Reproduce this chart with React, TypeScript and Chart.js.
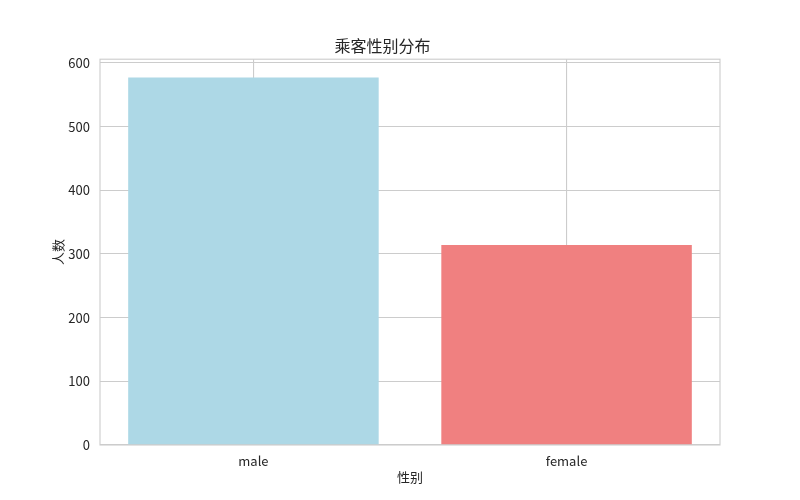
import { useEffect, useRef } from 'react';
import { Chart, registerables } from 'chart.js';
import type { Plugin } from 'chart.js';

Chart.register(...registerables);

// 数据
const categories = ['male', 'female'];
const counts = [577, 314];
const barColors = ['#ADD8E6', '#F08080'];
const yTicks = [0, 100, 200, 300, 400, 500, 600];

const FONT = '"Noto Sans CJK SC", "Noto Sans", sans-serif';
const TEXT = '#262626';
const GRID = '#cccccc';

// matplotlib 风格的四边框
const frame: Plugin<'bar'> = {
    id: 'frame',
    afterDatasetsDraw(chart) {
        const { ctx, chartArea: a } = chart;
        ctx.save();
        ctx.strokeStyle = GRID;
        ctx.lineWidth = 1.1;
        ctx.strokeRect(a.left, a.top, a.right - a.left, a.bottom - a.top);
        ctx.restore();
    },
};

export default function App() {
    const canvasRef = useRef<HTMLCanvasElement | null>(null);

    useEffect(() => {
        const canvas = canvasRef.current;
        if (!canvas) return;

        const chart = new Chart(canvas, {
            type: 'bar',
            data: {
                datasets: [
                    {
                        data: categories.map((_, i) => ({ x: i, y: counts[i] })),
                        backgroundColor: barColors,
                        borderWidth: 0,
                        barPercentage: 0.8,
                        categoryPercentage: 1,
                    },
                ],
            },
            options: {
                animation: false,
                responsive: true,
                maintainAspectRatio: false,
                layout: { padding: { left: 45, right: 80, top: 0, bottom: 0 } },
                plugins: {
                    legend: { display: false },
                    tooltip: { enabled: false },
                    title: {
                        display: true,
                        text: '乘客性别分布',
                        color: TEXT,
                        font: { family: FONT, size: 16, weight: 'normal' },
                        padding: { top: 36, bottom: 4 },
                    },
                },
                scales: {
                    x: {
                        type: 'linear',
                        min: -0.49,
                        max: 1.49,
                        offset: false,
                        afterBuildTicks: (scale) => {
                            scale.ticks = categories.map((_, i) => ({ value: i }));
                        },
                        afterFit: (scale) => {
                            scale.height = 55;
                        },
                        ticks: {
                            color: TEXT,
                            font: { family: FONT, size: 13 },
                            padding: 8,
                            callback: (v) => categories[Number(v)] ?? '',
                        },
                        grid: { color: GRID, lineWidth: 1.1, drawTicks: false, offset: false },
                        border: { display: false },
                        title: {
                            display: true,
                            text: '性别',
                            color: TEXT,
                            font: { family: FONT, size: 13 },
                            padding: { top: 0, bottom: 15 },
                        },
                    },
                    y: {
                        min: 0,
                        max: 605.85,
                        afterBuildTicks: (scale) => {
                            scale.ticks = yTicks.map((v) => ({ value: v }));
                        },
                        afterFit: (scale) => {
                            scale.width = 55;
                        },
                        ticks: {
                            color: TEXT,
                            font: { family: FONT, size: 13 },
                            padding: 10,
                        },
                        grid: { color: GRID, lineWidth: 1.1, drawTicks: false },
                        border: { display: false },
                        title: {
                            display: true,
                            text: '人数',
                            color: TEXT,
                            font: { family: FONT, size: 13 },
                            padding: { top: 5, bottom: 0 },
                        },
                    },
                },
            },
            plugins: [frame],
        });

        return () => {
            chart.destroy();
        };
    }, []);

    return (
        <div style={{ position: 'absolute', left: 0, top: 0, width: 800, height: 500, background: '#fff' }}>
            <canvas ref={canvasRef} />
        </div>
    );
}
